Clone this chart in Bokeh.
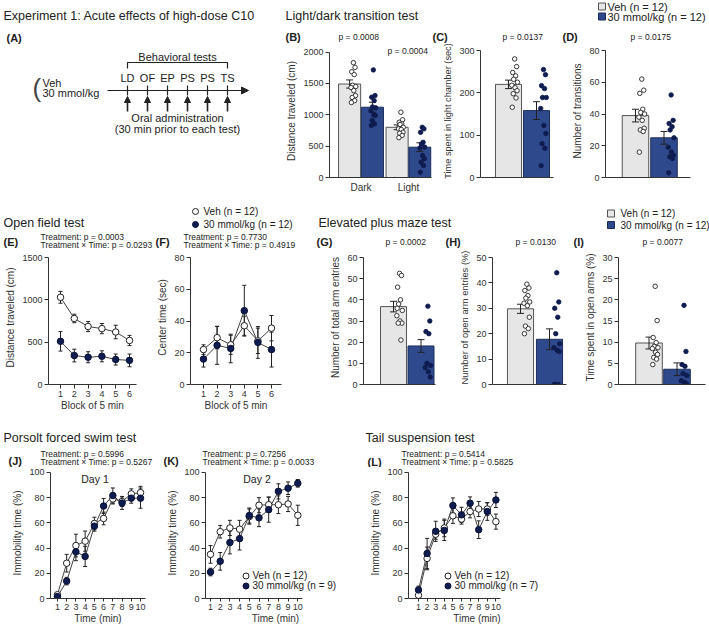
from bokeh.plotting import figure
from bokeh.models import Label, Legend, LegendItem, Arrow, NormalHead, FixedTicker, Range1d
from bokeh.layouts import row, column
from bokeh.core.properties import value
from bokeh.embed import file_html
from bokeh.resources import INLINE

FONT = "Liberation Sans"
INK = "#222222"
AXC = "#333333"
VEH_FILL = "#e6e6e6"
VEH_LINE = "#555555"
C10_FILL = "#2f4a8c"
C10_LINE = "#1c2d5c"
DOT = "#0e1c4f"

# ---------------- data ----------------
schedule_tests = ["LD", "OF", "EP", "PS", "PS", "TS"]

# (B) light/dark: distance travelled
ld_phases = ["Dark", "Light"]
ld_dist_veh = [1490, 800]
ld_dist_veh_sem = [65, 38]
ld_dist_c10 = [1120, 483]
ld_dist_c10_sem = [80, 70]
ld_dist_veh_dark_pts = [1830, 1755, 1685, 1640, 1470, 1450, 1435, 1385, 1305, 1275, 1225, 1195]
ld_dist_c10_dark_pts = [1715, 1305, 1280, 1225, 1125, 1110, 1065, 1000, 990, 910, 855, 830]
ld_dist_veh_light_pts = [1040, 920, 880, 855, 845, 800, 775, 765, 720, 705, 670, 635]
ld_dist_c10_light_pts = [800, 775, 720, 560, 535, 485, 470, 350, 300, 245, 190, 85]

# (C) time in light chamber
ld_time_mean = [220, 158]
ld_time_sem = [10, 21]
ld_time_veh_pts = [280, 262, 248, 240, 232, 225, 218, 212, 205, 198, 188, 166]
ld_time_c10_pts = [255, 243, 217, 210, 189, 189, 163, 123, 104, 80, 69, 28]

# (D) number of transitions
ld_trans_mean = [39, 25]
ld_trans_sem = [4, 4]
ld_trans_veh_pts = [62, 55, 53, 43, 41, 40, 38, 36, 31, 30, 29, 16]
ld_trans_c10_pts = [52, 36, 34, 32, 30, 25, 19, 16, 14, 13, 12, 3]

# (E) open field distance, (F) center time
of_blocks = [1, 2, 3, 4, 5, 6]
of_dist_veh = [1030, 780, 685, 660, 620, 520]
of_dist_veh_sem = [70, 50, 60, 60, 80, 60]
of_dist_c10 = [510, 342, 322, 333, 295, 285]
of_dist_c10_sem = [115, 75, 65, 65, 65, 75]
of_center_veh = [22, 29.5, 25, 37, 27.5, 35.5]
of_center_veh_sem = [3, 7, 6, 6, 8, 8]
of_center_c10 = [16, 24.7, 22.7, 46.5, 26.5, 22]
of_center_c10_sem = [5, 12, 9, 16, 10, 11]

# (G) total arm entries, (H) open arm entries %, (I) time in open arms %
epm_total_mean = [36.8, 18.2]
epm_total_sem = [2.5, 3.0]
epm_total_veh_pts = [52.5, 51.5, 46, 40, 38, 35, 32.5, 30, 29, 29, 21, 36]
epm_total_c10_pts = [37, 30, 25, 24, 10, 9, 8, 6, 3.5]
epm_open_mean = [29.8, 17.8]
epm_open_sem = [1.8, 4.1]
epm_open_veh_pts = [39.5, 38, 37, 35, 34, 32.5, 32, 31, 26.5, 23, 22, 20]
epm_open_c10_pts = [44, 32.5, 30, 26.5, 20, 16, 14.5, 13.5, 13, 0, 0, 0]
epm_time_mean = [9.8, 3.6]
epm_time_sem = [1.4, 1.5]
epm_time_veh_pts = [23.2, 15.1, 11.1, 9.9, 9.0, 8.7, 8.5, 7.6, 7.1, 6.4, 6.0, 4.7]
epm_time_c10_pts = [18.7, 7.8, 4.7, 4.3, 2.6, 2.1, 0.9, 0.5, 0.2]

# (J) FST day 1, (K) FST day 2, (L) TST
minutes = [1, 2, 3, 4, 5, 6, 7, 8, 9, 10]
fst1_veh = [3, 28, 42, 45.5, 59.5, 63.5, 79, 77, 83, 84]
fst1_veh_sem = [1, 7, 9, 8, 5, 5, 4, 4, 4, 5]
fst1_c10 = [1.5, 13.8, 37, 33.4, 57.4, 73.4, 81.7, 75.7, 79.6, 79.6]
fst1_c10_sem = [1, 3, 7, 8, 4, 6, 6, 5, 4, 8]
fst2_veh = [35, 53, 56, 55, 65, 74, 74.4, 74.4, 75, 66]
fst2_veh_sem = [7, 5, 6, 7, 6, 6, 6, 7, 6, 8]
fst2_c10 = [21, 29.5, 44.4, 47.5, 65.8, 64, 70.5, 85, 87.5, 91.4]
fst2_c10_sem = [3, 7, 9, 9, 6, 7, 10, 6, 5, 3]
tst_veh = [2.6, 31.8, 51, 56, 65.6, 63, 69, 71, 71, 61]
tst_veh_sem = [1, 9, 4, 7, 6, 4, 5, 6, 5, 6]
tst_c10 = [6.8, 35.7, 53.3, 54, 73.8, 66.4, 75.6, 54.6, 69, 78.2]
tst_c10_sem = [3, 12, 8, 8, 6, 6, 5, 7, 7, 6]


# ---------------- layout helpers (pixel geometry of the page) ----------------
class Panel:
    def __init__(self, box, frame, xr, yr, axes=True):
        self.box, self.frame, self.xr, self.yr = box, frame, xr, yr
        x0, y0, x1, y1 = box
        fx0, fy0, fx1, fy1 = frame
        kw = {} if axes else dict(x_axis_type=None, y_axis_type=None)
        self.p = figure(width=x1 - x0, height=y1 - y0, x_range=Range1d(*xr), y_range=Range1d(*yr),
                        output_backend="svg", toolbar_location=None,
                        min_border_left=fx0 - x0, min_border_right=x1 - fx1,
                        min_border_top=fy0 - y0, min_border_bottom=y1 - fy1, **kw)
        p = self.p
        p.outline_line_color = None
        p.grid.visible = False
        p.background_fill_color = "white"
        p.border_fill_color = "white"
        self.ppx = (fx1 - fx0) / (xr[1] - xr[0])
        self.ppy = (fy1 - fy0) / (yr[1] - yr[0])

    def dx(self, px):
        return self.xr[0] + (px - self.frame[0]) / self.ppx

    def dy(self, py):
        return self.yr[0] + (self.frame[3] - py) / self.ppy


def header(y0, y1):
    return Panel((0, y0, 709, y1), (0, y0, 709, y1), (0, 709), (y1, y0), axes=False)


def T(P, px, py, text, size=11, style="normal", align="left", color=INK):
    P.p.add_layout(Label(x=P.dx(px), y=P.dy(py), text=text, text_font=FONT,
                         text_font_size=f"{size}px", text_font_style=style, text_align=align,
                         text_baseline="middle", text_color=color))


def key(P, px, py, marker, size, fill, line):
    P.p.scatter([P.dx(px)], [P.dy(py)], marker=marker, size=size, fill_color=fill, line_color=line, line_width=1)


def LEG(P, r, label, px_left, py_center, gw, gh, standoff, size):
    H = max(gh, size * 1.15)
    lx = px_left - P.frame[0]
    ly = P.frame[3] - (py_center + H / 2)
    leg = Legend(items=[LegendItem(label=value(label), renderers=[r])], location=(lx, ly),
                 orientation="vertical", border_line_color=None, background_fill_alpha=0,
                 padding=0, margin=0, spacing=0, glyph_width=gw, glyph_height=gh,
                 label_height=gh, label_standoff=standoff, label_text_font=FONT,
                 label_text_font_size=f"{size}px", label_text_color=INK)
    P.p.add_layout(leg)


def yr_top(vtop, tick_py, fy0, fy1):
    return (0, vtop * (fy1 - fy0) / (fy1 - tick_py))


def style_axes(P, xticks, yticks, ylabel=None, xlabel=None, xover=None, xtick_out=4, xbounds=None, ylabel_size=10):
    p = P.p
    p.xaxis.ticker = FixedTicker(ticks=xticks)
    p.yaxis.ticker = FixedTicker(ticks=yticks)
    p.yaxis.bounds = (min(yticks), max(yticks))
    if xbounds:
        p.xaxis.bounds = xbounds
    if xover:
        p.xaxis.major_label_overrides = xover
    p.yaxis.axis_label = ylabel
    p.xaxis.axis_label = xlabel
    for ax in p.axis:
        ax.axis_line_color = AXC
        ax.axis_line_width = 1
        ax.major_tick_line_color = AXC
        ax.minor_tick_line_color = None
        ax.major_tick_out = 4
        ax.major_tick_in = 0
        ax.major_label_text_font = FONT
        ax.major_label_text_font_size = "9px"
        ax.major_label_text_color = AXC
        ax.axis_label_text_font = FONT
        ax.axis_label_text_font_size = "10px"
        ax.axis_label_text_font_style = "normal"
        ax.axis_label_text_color = AXC
        ax.major_label_standoff = 2
        ax.axis_label_standoff = 3
    p.yaxis.axis_label_text_font_size = f"{ylabel_size}px"
    p.xaxis.major_tick_out = xtick_out


def errbars(P, xs, means, sems, cap_px, color=INK):
    d = cap_px / 2 / P.ppx
    lo = [m - s for m, s in zip(means, sems)]
    hi = [m + s for m, s in zip(means, sems)]
    P.p.segment(x0=xs, y0=lo, x1=xs, y1=hi, line_color=color, line_width=1)
    P.p.segment(x0=[x - d for x in xs], y0=hi, x1=[x + d for x in xs], y1=hi, line_color=color, line_width=1)
    P.p.segment(x0=[x - d for x in xs], y0=lo, x1=[x + d for x in xs], y1=lo, line_color=color, line_width=1)


JIT = [0.0, 0.07, -0.07, 0.035, -0.035, 0.1, -0.1, 0.015, 0.085, -0.05, 0.05, -0.085]


def points(P, xc, vals, off, jscale, veh):
    xs = [xc + off + JIT[i % len(JIT)] * jscale for i in range(len(vals))]
    if veh:
        P.p.scatter(xs, vals, marker="circle", size=4.5, fill_color="white", line_color=INK, line_width=0.9)
    else:
        P.p.scatter(xs, vals, marker="circle", size=4.5, fill_color=DOT, line_color=DOT, line_width=0.8)


def two_bars(P, means, sems, width, veh_pts, c10_pts, off=0.22, cap=7):
    P.p.vbar(x=[1], top=[means[0]], width=width, bottom=0, fill_color=VEH_FILL, line_color=VEH_LINE, line_width=1)
    P.p.vbar(x=[2], top=[means[1]], width=width, bottom=0, fill_color=C10_FILL, line_color=C10_LINE, line_width=1)
    errbars(P, [1, 2], means, sems, cap)
    points(P, 1, veh_pts, off, 1.0, True)
    points(P, 2, c10_pts, off + 0.03, 1.0, False)


def time_course(P, x, veh, veh_sem, c10, c10_sem, size=6.5, cap=4):
    errbars(P, x, veh, veh_sem, cap)
    errbars(P, x, c10, c10_sem, cap)
    P.p.line(x, veh, line_color="#444444", line_width=1)
    P.p.line(x, c10, line_color="#444444", line_width=1)
    rv = P.p.scatter(x, veh, marker="circle", size=size, fill_color="white", line_color=INK, line_width=1)
    rc = P.p.scatter(x, c10, marker="circle", size=size, fill_color=DOT, line_color="#0a1236", line_width=1)
    return rv, rc


# ================= Row 1 =================
H1 = header(0, 44)
T(H1, 3, 15, "Experiment 1: Acute effects of high-dose C10", 12.5)
T(H1, 6, 37, "(A)", 11, "bold")
T(H1, 285, 15, "Light/dark transition test", 12.5)
T(H1, 285, 36, "(B)", 11, "bold")
T(H1, 338, 36, "p = 0.0008", 8.5)
T(H1, 432, 36, "(C)", 11, "bold")
T(H1, 502, 36, "p = 0.0137", 8.5)
T(H1, 562, 36, "(D)", 11, "bold")
T(H1, 630, 36, "p = 0.0175", 8.5)
key(H1, 601.5, 6, "square", 7, VEH_FILL, VEH_LINE)
key(H1, 601.5, 16, "square", 7, C10_FILL, C10_LINE)
T(H1, 607, 6.5, "Veh (n = 12)", 11)
T(H1, 607, 16.5, "30 mmol/kg (n = 12)", 11)

# (A) schedule diagram: x in test-index units, y in page pixels
A = Panel((0, 44, 283, 198), (0, 44, 283, 177), (-127 / 20, 156 / 20), (177, 44), axes=False)
pa = A.p
T(A, 32, 87.5, "(", 26, color="#444444")
T(A, 42, 82, "Veh", 11)
T(A, 42, 92.5, "30 mmol/kg", 11)
n_tests = len(schedule_tests)
idx = list(range(n_tests))
pa.add_layout(Arrow(end=NormalHead(size=7, fill_color=INK, line_color=INK, line_width=1),
                    x_start=-1, y_start=90, x_end=n_tests + 0.05, y_end=90, line_color=INK, line_width=1.2))
pa.segment(x0=idx, y0=[85] * n_tests, x1=idx, y1=[95] * n_tests, line_color=INK, line_width=1.2)
pa.line(x=[0, 0, n_tests - 1, n_tests - 1], y=[68, 62, 62, 68], line_color=INK, line_width=1.2)
for i, t in enumerate(schedule_tests):
    pa.add_layout(Label(x=i, y=77, text=t, text_font=FONT, text_font_size="11px",
                        text_align="center", text_baseline="middle", text_color=INK))
    pa.add_layout(Arrow(end=NormalHead(size=6, fill_color=INK, line_color=INK, line_width=1),
                        x_start=i, y_start=111, x_end=i, y_end=96, line_color=INK, line_width=1.6))
mid = (n_tests - 1) / 2
for txt, yy in [("Behavioral tests", 56), ("Oral administration", 117.5), ("(30 min prior to each test)", 128.5)]:
    pa.add_layout(Label(x=mid, y=yy, text=txt, text_font=FONT, text_font_size="11px",
                        text_align="center", text_baseline="middle", text_color=INK))

# (B)
B = Panel((283, 44, 432, 198), (329, 44, 431, 177), (1 - 31.5 / 47.5, 2 + 23 / 47.5), yr_top(2000, 51.5, 44, 177))
style_axes(B, [1, 2], [0, 500, 1000, 1500, 2000], "Distance traveled (cm)", xover={1: "Dark", 2: "Light"}, xtick_out=0)
B.p.xaxis.major_label_text_font_size = "10px"
B.p.xaxis.major_label_standoff = 4
bw = 0.465
B.p.vbar(x=[0.76, 1.76], top=ld_dist_veh, width=bw, fill_color=VEH_FILL, line_color=VEH_LINE, line_width=1)
B.p.vbar(x=[1.24, 2.24], top=ld_dist_c10, width=bw, fill_color=C10_FILL, line_color=C10_LINE, line_width=1)
errbars(B, [0.76, 1.76], ld_dist_veh, ld_dist_veh_sem, 7)
errbars(B, [1.24, 2.24], ld_dist_c10, ld_dist_c10_sem, 7)
points(B, 0.76, ld_dist_veh_dark_pts, 0.08, 0.5, True)
points(B, 1.24, ld_dist_c10_dark_pts, 0.02, 0.5, False)
points(B, 1.76, ld_dist_veh_light_pts, 0.08, 0.5, True)
points(B, 2.24, ld_dist_c10_light_pts, 0.05, 0.5, False)
T(B, 387, 50, "p = 0.0004", 8.5)

# (C)
C = Panel((432, 44, 562, 198), (480, 44, 553, 177), (0.0, 2.607), yr_top(300, 50, 44, 177))
style_axes(C, [], [0, 100, 200, 300], "Time spent in light chamber (sec)", ylabel_size=9.2)
two_bars(C, ld_time_mean, ld_time_sem, 0.93, ld_time_veh_pts, ld_time_c10_pts)

# (D)
D = Panel((562, 44, 709, 198), (605, 44, 690, 177), (1 - 30 / 28.5, 2 + 26.5 / 28.5), yr_top(80, 50, 44, 177))
style_axes(D, [], [0, 20, 40, 60, 80], "Number of transitions")
two_bars(D, ld_trans_mean, ld_trans_sem, 0.93, ld_trans_veh_pts, ld_trans_c10_pts)

# ================= Row 2 =================
H2 = header(198, 250)
T(H2, 3, 222, "Open field test", 12.5)
T(H2, 3, 241, "(E)", 11, "bold")
T(H2, 40, 236.5, "Treatment: p = 0.0003", 8.5)
T(H2, 40, 244.5, "Treatment \u00d7 Time: p = 0.0293", 8.5)
T(H2, 155, 241, "(F)", 11, "bold")
T(H2, 183, 236.5, "Treatment: p = 0.7730", 8.5)
T(H2, 183, 244.5, "Treatment \u00d7 Time: p = 0.4919", 8.5)
key(H2, 195, 211, "circle", 6, "white", INK)
key(H2, 195, 224, "circle", 6, DOT, "#0a1236")
T(H2, 203, 211, "Veh (n = 12)", 10)
T(H2, 203, 224, "30 mmol/kg (n = 12)", 10)
T(H2, 318, 222, "Elevated plus maze test", 12.5)
T(H2, 316, 241, "(G)", 11, "bold")
T(H2, 385, 241, "p = 0.0002", 8.5)
T(H2, 445, 241, "(H)", 11, "bold")
T(H2, 515, 241, "p = 0.0130", 8.5)
T(H2, 573, 241, "(I)", 11, "bold")
T(H2, 642, 241, "p = 0.0077", 8.5)
key(H2, 610.5, 213, "square", 7, VEH_FILL, VEH_LINE)
key(H2, 610.5, 224.5, "square", 7, C10_FILL, C10_LINE)
T(H2, 620, 213, "Veh (n = 12)", 10)
T(H2, 620, 224.5, "30 mmol/kg (n = 12)", 10)

E = Panel((0, 250, 152, 425), (48, 250, 136, 384), (1 - 12 / 13.8, 6 + 7 / 13.8), yr_top(1500, 257, 250, 384))
style_axes(E, of_blocks, [0, 500, 1000, 1500], "Distance traveled (cm)", "Block of 5 min")
E.p.xaxis.axis_label_standoff = 0
time_course(E, of_blocks, of_dist_veh, of_dist_veh_sem, of_dist_c10, of_dist_c10_sem)

F = Panel((152, 250, 300, 425), (190, 250, 281, 384), (1 - 13 / 13.6, 6 + 10 / 13.6), yr_top(80, 257, 250, 384))
style_axes(F, of_blocks, [0, 20, 40, 60, 80], "Center time (sec)", "Block of 5 min")
F.p.xaxis.axis_label_standoff = 0
time_course(F, of_blocks, of_center_veh, of_center_veh_sem, of_center_c10, of_center_c10_sem)

G = Panel((300, 250, 442, 425), (363, 250, 435, 384), (1 - 30 / 27.5, 2 + 14.5 / 27.5), yr_top(60, 257, 250, 384))
style_axes(G, [], [0, 10, 20, 30, 40, 50, 60], "Number of total arm entries")
two_bars(G, epm_total_mean, epm_total_sem, 0.945, epm_total_veh_pts, epm_total_c10_pts)

H = Panel((442, 250, 570, 425), (492, 250, 566, 384), (1 - 28 / 29, 2 + 17 / 29), yr_top(50, 257, 250, 384))
style_axes(H, [], [0, 10, 20, 30, 40, 50], "Number of open arm entries (%)", ylabel_size=9.4)
two_bars(H, epm_open_mean, epm_open_sem, 0.9, epm_open_veh_pts, epm_open_c10_pts)

I = Panel((570, 250, 709, 425), (618, 250, 705, 384), (1 - 30.5 / 28, 2 + 28.5 / 28), yr_top(30, 257, 250, 384))
style_axes(I, [], [0, 5, 10, 15, 20, 25, 30], "Time spent in open arms (%)")
two_bars(I, epm_time_mean, epm_time_sem, 0.95, epm_time_veh_pts, epm_time_c10_pts)

# ================= Row 3 =================
H3 = header(425, 467)
T(H3, 3, 437, "Porsolt forced swim test", 12.5)
T(H3, 8, 460, "(J)", 11, "bold")
T(H3, 40, 453, "Treatment: p = 0.5996", 8.5)
T(H3, 40, 461.5, "Treatment \u00d7 Time: p = 0.5267", 8.5)
T(H3, 163, 460, "(K)", 11, "bold")
T(H3, 202, 453, "Treatment: p = 0.7256", 8.5)
T(H3, 202, 461.5, "Treatment \u00d7 Time: p = 0.0033", 8.5)
T(H3, 365, 437, "Tail suspension test", 12.5)
T(H3, 367, 461, "(L)", 11, "bold")
T(H3, 401, 453, "Treatment: p = 0.5414", 8.5)
T(H3, 401, 461.5, "Treatment \u00d7 Time: p = 0.5825", 8.5)

yt100 = [0, 20, 40, 60, 80, 100]
J = Panel((0, 467, 158, 626), (50, 467, 145, 599), (1 - 7 / 9.3, 10 + 5 / 9.3), yr_top(100, 472, 467, 599))
style_axes(J, minutes, yt100, "Immobility time (%)", "Time (min)", xtick_out=3)
J.p.xaxis.axis_label_standoff = 0
time_course(J, minutes, fst1_veh, fst1_veh_sem, fst1_c10, fst1_c10_sem)
T(J, 94.5, 479, "Day 1", 10.5, align="center")

kx0, kx1 = 1 - 5 / 9.7, 10 + 4.7 / 9.7
K = Panel((158, 467, 358, 626), (205, 467, 345, 599), (kx0, 10 + (345 - 297.3) / 9.7), yr_top(100, 472, 467, 599))
style_axes(K, minutes, yt100, "Immobility time (%)", "Time (min)", xtick_out=3, xbounds=(kx0, kx1))
K.p.xaxis.axis_label_standoff = 0
rKv, rKc = time_course(K, minutes, fst2_veh, fst2_veh_sem, fst2_c10, fst2_c10_sem)
T(K, 256.5, 479, "Day 2", 10.5, align="center")
LEG(K, rKv, "Veh (n = 12)", 237.5, 576, 15, 15, 0, 10)
LEG(K, rKc, "30 mmol/kg (n = 9)", 237.5, 586, 15, 15, 0, 10)

lx0, lx1 = 1 - 10 / 8.6, 10 + 4.6 / 8.6
L = Panel((358, 467, 709, 626), (408, 467, 545, 599), (lx0, 10 + (545 - 495.4) / 8.6), yr_top(100, 472, 467, 599))
style_axes(L, minutes, yt100, "Immobility time (%)", "Time (min)", xtick_out=3, xbounds=(lx0, lx1))
L.p.xaxis.axis_label_standoff = 0
rLv, rLc = time_course(L, minutes, tst_veh, tst_veh_sem, tst_c10, tst_c10_sem)
LEG(L, rLv, "Veh (n = 12)", 439.5, 576, 15, 15, 0, 10)
LEG(L, rLc, "30 mmol/kg (n = 7)", 439.5, 586, 15, 15, 0, 10)

layout = column(H1.p, row(A.p, B.p, C.p, D.p), H2.p, row(E.p, F.p, G.p, H.p, I.p),
                H3.p, row(J.p, K.p, L.p))
open("out.html", "w").write(file_html(layout, INLINE))
